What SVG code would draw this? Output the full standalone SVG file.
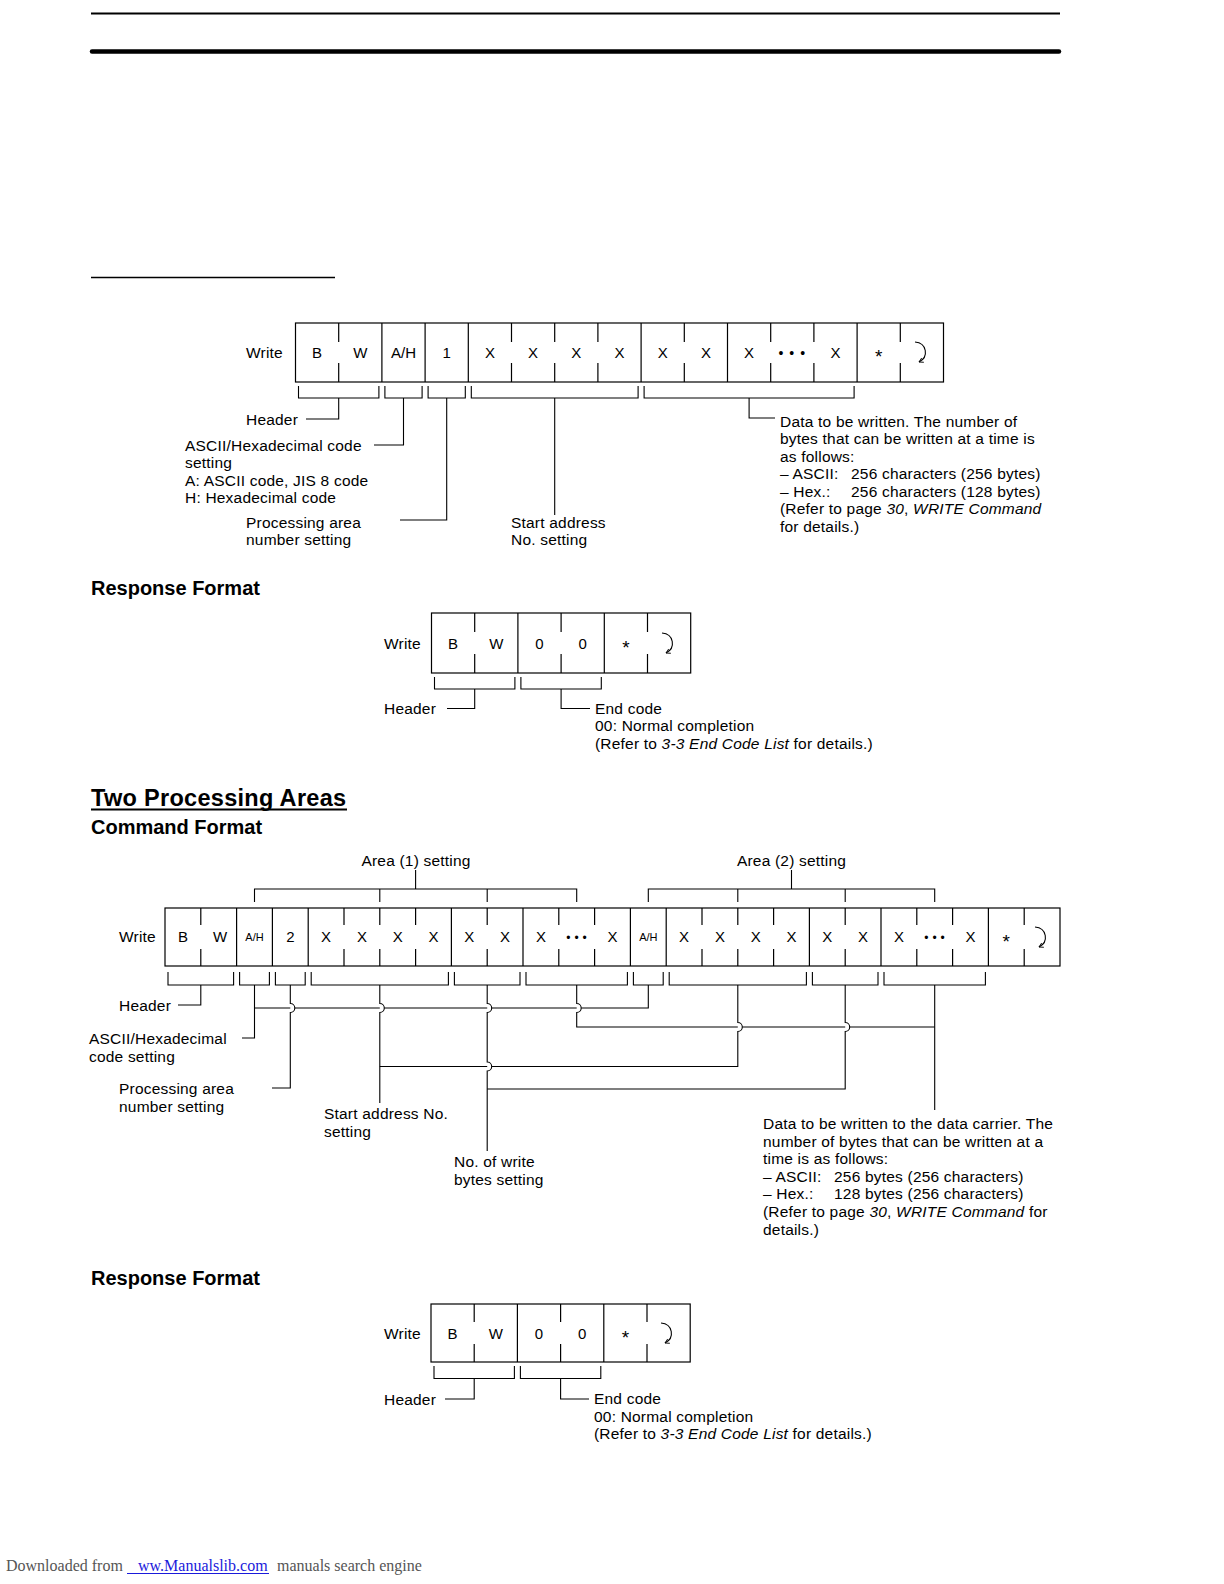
<svg xmlns="http://www.w3.org/2000/svg" width="1224" height="1584" viewBox="0 0 1224 1584">
<defs>
<marker id="ah" viewBox="0 0 10 10" refX="8" refY="5" markerWidth="6" markerHeight="6" orient="auto" markerUnits="userSpaceOnUse"><path d="M1,1 L8,5 L1,9" fill="none" stroke="#000" stroke-width="1.4"/></marker>
</defs>
<style>
.t{font-family:"Liberation Sans",Arial,sans-serif;font-size:15.5px;letter-spacing:0.2px;fill:#000}
.c{font-family:"Liberation Sans",Arial,sans-serif;font-size:15px;fill:#000;text-anchor:middle}
.s{font-size:11px}
.a{font-size:19px}
.d{font-size:14px;letter-spacing:1px}
.d2{font-size:12px;letter-spacing:0.3px}
.h{font-family:"Liberation Sans",Arial,sans-serif;font-weight:bold;font-size:20px;fill:#000}
.box{fill:none;stroke:#000;stroke-width:1.2}
.ln{fill:none;stroke:#000;stroke-width:1.1}
.ret{fill:none;stroke:#000;stroke-width:1.1;marker-end:url(#ah)}
.it{font-style:italic}
.ft{font-family:"Liberation Serif","Times New Roman",serif;font-size:16px}
</style>
<rect x="0" y="0" width="1224" height="1584" fill="#fff"/>

<g id="page-rules">
<line x1="91" y1="13.5" x2="1060" y2="13.5" stroke="#000" stroke-width="2"/>
<line x1="92" y1="51.5" x2="1059" y2="51.5" stroke="#000" stroke-width="4.5" stroke-linecap="round"/>
<line x1="91" y1="277.5" x2="335" y2="277.5" stroke="#000" stroke-width="1.5"/>
</g>

<!-- ===== One processing area: command format ===== -->
<g id="f1-frame">
<rect class="box" x="295.5" y="323" width="648" height="59"/>
<path class="box" d="M381.9,323V382M425.1,323V382M468.3,323V382M641.1,323V382M727.5,323V382M857.1,323V382"/>
<path class="box" d="M338.7,323V342M338.7,363V382M511.5,323V342M511.5,363V382M554.7,323V342M554.7,363V382M597.9,323V342M597.9,363V382M684.3,323V342M684.3,363V382M770.7,323V342M770.7,363V382M813.9,323V342M813.9,363V382M900.3,323V342M900.3,363V382"/>
<text class="t" x="246" y="357.5">Write</text>
<text class="c" x="317.1" y="357.5">B</text>
<text class="c" x="360.3" y="357.5">W</text>
<text class="c" x="403.5" y="357.5">A/H</text>
<text class="c" x="446.7" y="357.5">1</text>
<text class="c" x="489.9" y="357.5">X</text>
<text class="c" x="533.1" y="357.5">X</text>
<text class="c" x="576.3" y="357.5">X</text>
<text class="c" x="619.5" y="357.5">X</text>
<text class="c" x="662.7" y="357.5">X</text>
<text class="c" x="705.9" y="357.5">X</text>
<text class="c" x="749.1" y="357.5">X</text>
<text class="c d" x="792.3" y="357.5">• • •</text>
<text class="c" x="835.5" y="357.5">X</text>
<text class="c a" x="878.7" y="363">*</text>
<path class="ret" d="M915,342 C927,343 929,357 919,362"/>
</g>
<g id="f1-brackets">
<path class="ln" d="M298.5,386V398H378.9V386M384.9,386V398H422.1V386M428.1,386V398H465.3V386M471.3,386V398H638.1V386M644.1,386V398H854.1V386"/>
</g>
<g id="f1-header"><text class="t" x="246" y="424.5">Header</text></g>
<g id="f1-ascii">
<text class="t" x="185" y="450.5">ASCII/Hexadecimal code</text>
<text class="t" x="185" y="468">setting</text>
<text class="t" x="185" y="485.5">A: ASCII code, JIS 8 code</text>
<text class="t" x="185" y="503">H: Hexadecimal code</text>
</g>
<g id="f1-proc">
<text class="t" x="246" y="527.5">Processing area</text>
<text class="t" x="246" y="545">number setting</text>
</g>
<g id="f1-start">
<text class="t" x="511" y="527.5">Start address</text>
<text class="t" x="511" y="545">No. setting</text>
</g>
<g id="f1-data">
<text class="t" x="780" y="426.5">Data to be written. The number of</text>
<text class="t" x="780" y="444">bytes that can be written at a time is</text>
<text class="t" x="780" y="461.5">as follows:</text>
<text class="t" x="780" y="479">– ASCII:</text><text class="t" x="851" y="479">256 characters (256 bytes)</text>
<text class="t" x="780" y="496.5">– Hex.:</text><text class="t" x="851" y="496.5">256 characters (128 bytes)</text>
<text class="t" x="780" y="514">(Refer to page <tspan class="it">30</tspan>, <tspan class="it">WRITE Command</tspan></text>
<text class="t" x="780" y="531.5">for details.)</text>
</g>
<g id="f1-connectors">
<path class="ln" d="M338.7,398V419H306"/>
<path class="ln" d="M403.5,398V445H374"/>
<path class="ln" d="M446.7,398V520H400"/>
<path class="ln" d="M554.7,398V515"/>
<path class="ln" d="M749.1,398V418H775"/>
</g>

<!-- ===== Response format 1 ===== -->
<g id="h-resp1"><text class="h" x="91" y="595">Response Format</text></g>
<g id="r1-frame">
<rect class="box" x="431.5" y="613" width="259.2" height="60"/>
<path class="box" d="M517.9,613V673M604.3,613V673"/>
<path class="box" d="M474.7,613V632M474.7,654V673M561.1,613V632M561.1,654V673M647.5,613V632M647.5,654V673"/>
<text class="t" x="384" y="648.5">Write</text>
<text class="c" x="453.1" y="648.5">B</text>
<text class="c" x="496.3" y="648.5">W</text>
<text class="c" x="539.5" y="648.5">0</text>
<text class="c" x="582.7" y="648.5">0</text>
<text class="c a" x="625.9" y="654">*</text>
<path class="ret" d="M662,633 C674,634 676,648 666,653"/>
</g>
<g id="r1-brackets"><path class="ln" d="M434.5,677V689H514.9V677M520.9,677V689H601.3V677"/></g>
<g id="r1-header"><text class="t" x="384" y="714">Header</text></g>
<g id="r1-end">
<text class="t" x="595" y="713.5">End code</text>
<text class="t" x="595" y="731">00: Normal completion</text>
<text class="t" x="595" y="748.5">(Refer to <tspan class="it">3-3 End Code List</tspan> for details.)</text>
</g>
<g id="r1-connectors"><path class="ln" d="M474.7,689V708.5H447M561.1,689V708.5H590"/></g>

<!-- ===== Two processing areas ===== -->
<g id="h-two">
<text class="h" x="91" y="806" style="font-size:23.5px;letter-spacing:0.3px">Two Processing Areas</text>
<line x1="91" y1="809.5" x2="347" y2="809.5" stroke="#000" stroke-width="2"/>
</g>
<g id="h-cmd2"><text class="h" x="91" y="834">Command Format</text></g>

<g id="f2-area1">
<text class="t" x="416" y="866" text-anchor="middle">Area (1) setting</text>
<path class="ln" d="M415.6,870V889M254.5,902V889H576.7V902M379.8,889V902M487.2,889V902"/>
</g>
<g id="f2-area2">
<text class="t" x="791.5" y="866" text-anchor="middle">Area (2) setting</text>
<path class="ln" d="M791.5,870V889M648.3,902V889H934.7V902M737.8,889V902M845.2,889V902"/>
</g>

<g id="f2-frame">
<rect class="box" x="165" y="908" width="895" height="58"/>
<path class="box" d="M236.6,908V966M272.4,908V966M308.2,908V966M451.4,908V966M523,908V966M630.4,908V966M666.2,908V966M809.4,908V966M881,908V966M988.4,908V966"/>
<path class="box" d="M200.8,908V925M200.8,949V966M344,908V925M344,949V966M379.8,908V925M379.8,949V966M415.6,908V925M415.6,949V966M487.2,908V925M487.2,949V966M558.8,908V925M558.8,949V966M594.6,908V925M594.6,949V966M702,908V925M702,949V966M737.8,908V925M737.8,949V966M773.6,908V925M773.6,949V966M845.2,908V925M845.2,949V966M916.8,908V925M916.8,949V966M952.6,908V925M952.6,949V966M1024.2,908V925M1024.2,949V966"/>
<text class="t" x="119" y="942">Write</text>
<text class="c" x="182.9" y="942">B</text>
<text class="c" x="220" y="942">W</text>
<text class="c s" x="254.5" y="941">A/H</text>
<text class="c" x="290.3" y="942">2</text>
<text class="c" x="326.1" y="942">X</text>
<text class="c" x="361.9" y="942">X</text>
<text class="c" x="397.7" y="942">X</text>
<text class="c" x="433.5" y="942">X</text>
<text class="c" x="469.3" y="942">X</text>
<text class="c" x="505.1" y="942">X</text>
<text class="c" x="540.9" y="942">X</text>
<text class="c d2" x="576.7" y="942">• • •</text>
<text class="c" x="612.5" y="942">X</text>
<text class="c s" x="648.3" y="941">A/H</text>
<text class="c" x="684.1" y="942">X</text>
<text class="c" x="719.9" y="942">X</text>
<text class="c" x="755.7" y="942">X</text>
<text class="c" x="791.5" y="942">X</text>
<text class="c" x="827.3" y="942">X</text>
<text class="c" x="863.1" y="942">X</text>
<text class="c" x="898.9" y="942">X</text>
<text class="c d2" x="934.7" y="942">• • •</text>
<text class="c" x="970.5" y="942">X</text>
<text class="c a" x="1006.3" y="948">*</text>
<path class="ret" d="M1035,927 C1047,928 1049,942 1039,947"/>
</g>
<g id="f2-brackets">
<path class="ln" d="M168,972V985H233.6V972M239.6,972V985H269.4V972M275.4,972V985H305.2V972M311.2,972V985H448.4V972M454.4,972V985H520V972M526,972V985H627.4V972M633.4,972V985H663.2V972M669.2,972V985H806.4V972M812.4,972V985H878V972M884,972V985H985.4V972"/>
</g>
<g id="f2-header"><text class="t" x="119" y="1010.5">Header</text></g>
<g id="f2-ascii">
<text class="t" x="89" y="1043.5">ASCII/Hexadecimal</text>
<text class="t" x="89" y="1061.5">code setting</text>
</g>
<g id="f2-proc">
<text class="t" x="119" y="1093.5">Processing area</text>
<text class="t" x="119" y="1111.5">number setting</text>
</g>
<g id="f2-start">
<text class="t" x="324" y="1118.5">Start address No.</text>
<text class="t" x="324" y="1136.5">setting</text>
</g>
<g id="f2-bytes">
<text class="t" x="454" y="1166.5">No. of write</text>
<text class="t" x="454" y="1184.5">bytes setting</text>
</g>
<g id="f2-data">
<text class="t" x="763" y="1128.5">Data to be written to the data carrier. The</text>
<text class="t" x="763" y="1146.5">number of bytes that can be written at a</text>
<text class="t" x="763" y="1164">time is as follows:</text>
<text class="t" x="763" y="1181.5">– ASCII:</text><text class="t" x="834" y="1181.5">256 bytes (256 characters)</text>
<text class="t" x="763" y="1199">– Hex.:</text><text class="t" x="834" y="1199">128 bytes (256 characters)</text>
<text class="t" x="763" y="1217">(Refer to page <tspan class="it">30</tspan>, <tspan class="it">WRITE Command</tspan> for</text>
<text class="t" x="763" y="1234.5">details.)</text>
</g>
<g id="f2-connectors">
<path class="ln" d="M200.8,985V1005H178"/>
<path class="ln" d="M254.5,985V1038H242"/>
<path class="ln" d="M254.5,1008H290.3M294.8,1008H379.8M384.3,1008H487.2M491.7,1008H576.7M581.2,1008H648.3V985"/>
<path class="ln" d="M290.3,985V1003.5A4.5,4.5 0 0 1 290.3,1012.5V1088H272"/>
<path class="ln" d="M379.8,985V1003.5A4.5,4.5 0 0 1 379.8,1012.5V1103"/>
<path class="ln" d="M379.8,1066.5H487.2M491.7,1066.5H737.8V1031.5A4.5,4.5 0 0 0 737.8,1022.5V985"/>
<path class="ln" d="M487.2,985V1003.5A4.5,4.5 0 0 1 487.2,1012.5V1062A4.5,4.5 0 0 1 487.2,1071V1151"/>
<path class="ln" d="M487.2,1089H845.2V1031.5A4.5,4.5 0 0 0 845.2,1022.5V985"/>
<path class="ln" d="M576.7,985V1003.5A4.5,4.5 0 0 1 576.7,1012.5V1027H737.8M742.3,1027H845.2M849.7,1027H934.7"/>
<path class="ln" d="M934.7,985V1110"/>
</g>

<!-- ===== Response format 2 ===== -->
<g id="h-resp2"><text class="h" x="91" y="1285">Response Format</text></g>
<g id="r2-frame">
<rect class="box" x="431" y="1304" width="259.2" height="58"/>
<path class="box" d="M517.4,1304V1362M603.8,1304V1362"/>
<path class="box" d="M474.2,1304V1322M474.2,1344V1362M560.6,1304V1322M560.6,1344V1362M647,1304V1322M647,1344V1362"/>
<text class="t" x="384" y="1338.5">Write</text>
<text class="c" x="452.6" y="1338.5">B</text>
<text class="c" x="495.8" y="1338.5">W</text>
<text class="c" x="539" y="1338.5">0</text>
<text class="c" x="582.2" y="1338.5">0</text>
<text class="c a" x="625.4" y="1344">*</text>
<path class="ret" d="M661,1323 C673,1324 675,1338 665,1343"/>
</g>
<g id="r2-brackets"><path class="ln" d="M434,1366V1378.5H514.4V1366M520.4,1366V1378.5H600.8V1366"/></g>
<g id="r2-header"><text class="t" x="384" y="1405">Header</text></g>
<g id="r2-end">
<text class="t" x="594" y="1404">End code</text>
<text class="t" x="594" y="1421.5">00: Normal completion</text>
<text class="t" x="594" y="1439">(Refer to <tspan class="it">3-3 End Code List</tspan> for details.)</text>
</g>
<g id="r2-connectors"><path class="ln" d="M474.2,1378.5V1399H445M560.6,1378.5V1399H589"/></g>

<g id="footer">
<text class="ft" x="6" y="1571" fill="#555">Downloaded from</text>
<text class="ft" x="138" y="1571" fill="#1a1adb">ww.Manualslib.com</text>
<line x1="127" y1="1573.5" x2="269" y2="1573.5" stroke="#1a1adb" stroke-width="1"/>
<text class="ft" x="277" y="1571" fill="#555">manuals search engine</text>
</g>
</svg>
